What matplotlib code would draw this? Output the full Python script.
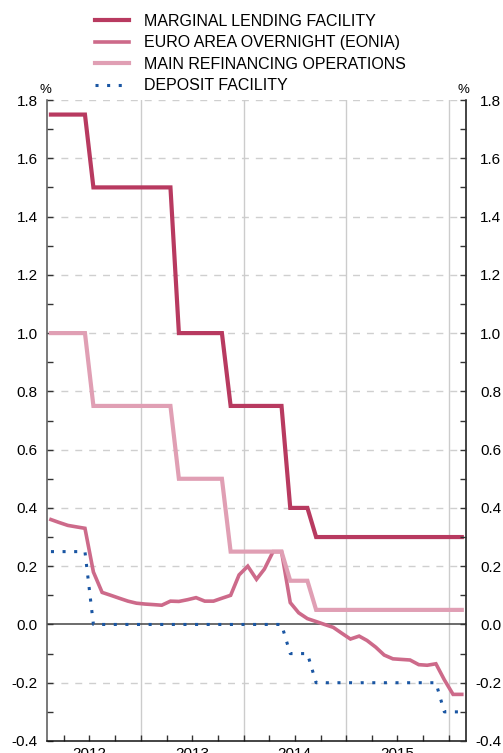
import numpy as np
import pandas as pd
import matplotlib
matplotlib.use("Agg")
import matplotlib.pyplot as plt
import matplotlib.dates as mdates
from matplotlib.ticker import MultipleLocator, FixedLocator, NullFormatter, FixedFormatter

plt.rcParams['font.family'] = ['Liberation Sans', 'DejaVu Sans']
plt.rcParams['axes.unicode_minus'] = False

# ---- data (monthly, Feb 2012 - Feb 2016) ----
months = pd.date_range("2012-02-01", periods=49, freq="MS")
series_labels = ["MARGINAL LENDING FACILITY", "EURO AREA OVERNIGHT (EONIA)",
                 "MAIN REFINANCING OPERATIONS", "DEPOSIT FACILITY"]
mlf = [1.75] * 5 + [1.50] * 10 + [1.00] * 6 + [0.75] * 7 + [0.40] * 3 + [0.30] * 18
mro = [1.00] * 5 + [0.75] * 10 + [0.50] * 6 + [0.25] * 7 + [0.15] * 3 + [0.05] * 18
deposit = [0.25] * 5 + [0.00] * 23 + [-0.10] * 3 + [-0.20] * 15 + [-0.30] * 3
eonia = [0.36, 0.35, 0.34, 0.335, 0.33, 0.18, 0.11, 0.10, 0.09, 0.08, 0.073,
         0.07, 0.068, 0.066, 0.08, 0.079, 0.085, 0.092, 0.08, 0.08, 0.09, 0.10, 0.17,
         0.20, 0.155, 0.19, 0.25, 0.25, 0.075, 0.04, 0.02, 0.01, 0.00, -0.01, -0.03,
         -0.05, -0.04, -0.055, -0.078, -0.105, -0.118, -0.12, -0.122, -0.138, -0.14, -0.135, -0.19,
         -0.24, -0.24]
year_labels = ["2012", "2013", "2014", "2015"]
y_ticks = [-0.4, -0.2, 0.0, 0.2, 0.4, 0.6, 0.8, 1.0, 1.2, 1.4, 1.6, 1.8]

x = months + pd.Timedelta(days=14)

c_mlf = "#b83a60"
c_eonia = "#cd6a8a"
c_mro = "#e09fb4"
c_dep = "#1a56a3"

fig = plt.figure(figsize=(5.03, 7.53), dpi=100)
ax = fig.add_axes([47 / 503, 12 / 753, 419 / 503, 641 / 753])

xmin = pd.Timestamp("2012-02-01")
xmax = pd.Timestamp("2016-03-01")
ax.set_xlim(xmin, xmax)
ax.set_ylim(-0.4, 1.8)

# grid lines
for yv in y_ticks:
    if yv in (0.0, -0.4):
        continue
    ax.axhline(yv, color="#cfcfcf", lw=1.0, ls=(0, (5, 5)), zorder=0)
for yr in [2013, 2014, 2015, 2016]:
    ax.axvline(pd.Timestamp(f"{yr}-01-01"), color="#cccccc", lw=1.0, zorder=0)
ax.axhline(0.0, color="#444444", lw=1.1, zorder=1)

l_eonia, = ax.plot(x, eonia, color=c_eonia, lw=2.6, zorder=3, solid_joinstyle="miter")
l_mro, = ax.plot(x, mro, color=c_mro, lw=3.0, zorder=4, solid_joinstyle="miter")
l_dep, = ax.plot(x, deposit, color=c_dep, lw=2.2, ls=(0, (1, 2.8)), zorder=5)
l_mlf, = ax.plot(x, mlf, color=c_mlf, lw=3.0, zorder=6, solid_joinstyle="miter")

# spines
ax.spines["top"].set_visible(False)
ax.spines["left"].set_color("#555555")
ax.spines["right"].set_color("#111111")
ax.spines["bottom"].set_color("#111111")
for s in ["left", "right", "bottom"]:
    ax.spines[s].set_linewidth(1.1)

# y ticks
ax.yaxis.set_major_locator(FixedLocator(y_ticks))
ax.yaxis.set_minor_locator(MultipleLocator(0.1))
ax.set_yticklabels([f"{v:.1f}" for v in y_ticks])
ax.tick_params(axis="y", which="both", direction="in", length=4, width=1,
               labelsize=11, pad=6.5, left=True, right=True, labelright=False,
               color="#333333")

ax2 = ax.twinx()
ax2.set_ylim(ax.get_ylim())
ax2.yaxis.set_major_locator(FixedLocator(y_ticks))
ax2.yaxis.set_minor_locator(MultipleLocator(0.1))
ax2.set_yticklabels([f"{v:.1f}" for v in y_ticks], ha="right")
ax2.tick_params(axis="y", which="both", direction="in", length=4, width=1,
                labelsize=11, pad=25.5, color="#333333")
for s in ax2.spines.values():
    s.set_visible(False)

# x ticks: quarterly inward, year labels mid-year
quarters = pd.date_range("2012-04-01", "2016-01-01", freq="QS")
ax.xaxis.remove_overlapping_locs = False
ax.xaxis.set_major_locator(FixedLocator(mdates.date2num(quarters)))
ax.xaxis.set_major_formatter(NullFormatter())
mid = [pd.Timestamp(f"{y}-07-01") for y in year_labels]
ax.xaxis.set_minor_locator(FixedLocator(mdates.date2num(mid)))
ax.xaxis.set_minor_formatter(FixedFormatter(year_labels))
ax.tick_params(axis="x", which="major", direction="in", length=4, width=1, color="#333333")
ax.tick_params(axis="x", which="minor", length=0, labelsize=11, pad=4)

# percent signs
fig.text(45 / 503, 1 - 90 / 753, "%", fontsize=9.5, ha="center", va="center")
fig.text(463 / 503, 1 - 90 / 753, "%", fontsize=9.5, ha="center", va="center")

# legend
fig.legend([l_mlf, l_eonia, l_mro, l_dep], series_labels,
           loc="upper left", bbox_to_anchor=(95 / 503, 1 - 14 / 753),
           frameon=False, fontsize=11.5, handlelength=2.1, handletextpad=0.95,
           labelspacing=0.4, borderpad=0, borderaxespad=0)

fig.savefig("out.png", dpi=100)
